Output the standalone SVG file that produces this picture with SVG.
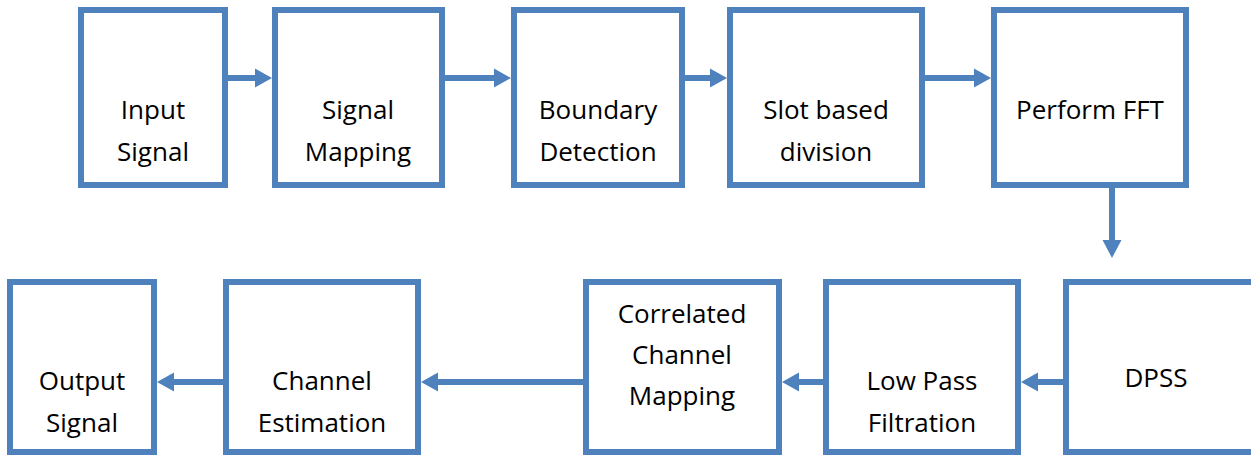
<svg xmlns="http://www.w3.org/2000/svg" width="1251" height="456" viewBox="0 0 1251 456">
<defs>
<style>
.box{fill:#fff;stroke:#4F81BD;stroke-width:6}
.lbl{font-family:"Open Sans","Liberation Sans",sans-serif;font-size:26px;fill:#000;text-anchor:middle}
.con{stroke:#4F81BD;stroke-width:6;fill:none}
.head{fill:#4F81BD}
</style>
</defs>
<rect width="1251" height="456" fill="#fff"/>
<g id="connectors">
<line class="con" x1="228" y1="78" x2="256" y2="78"/><polygon class="head" points="255,68.5 272,78 255,87.5"/>
<line class="con" x1="445" y1="78" x2="495" y2="78"/><polygon class="head" points="494,68.5 511,78 494,87.5"/>
<line class="con" x1="685" y1="78" x2="711" y2="78"/><polygon class="head" points="710,68.5 727,78 710,87.5"/>
<line class="con" x1="925" y1="78" x2="975" y2="78"/><polygon class="head" points="974,68.5 991,78 974,87.5"/>
<line class="con" x1="1112" y1="188" x2="1112" y2="242"/><polygon class="head" points="1102.5,240 1121.5,240 1112,258"/>
<line class="con" x1="1063" y1="382" x2="1037" y2="382"/><polygon class="head" points="1038,372.5 1021,382 1038,391.5"/>
<line class="con" x1="823" y1="382" x2="798" y2="382"/><polygon class="head" points="799,372.5 782,382 799,391.5"/>
<line class="con" x1="583" y1="382" x2="437" y2="382"/><polygon class="head" points="438,372.5 421,382 438,391.5"/>
<line class="con" x1="223" y1="382" x2="173" y2="382"/><polygon class="head" points="174,372.5 157,382 174,391.5"/>
</g>
<g id="n1"><rect class="box" x="81" y="10" width="144" height="175"/><text class="lbl" x="153" y="119">Input</text><text class="lbl" x="153" y="161">Signal</text></g>
<g id="n2"><rect class="box" x="275" y="10" width="167" height="175"/><text class="lbl" x="358" y="119">Signal</text><text class="lbl" x="358" y="161">Mapping</text></g>
<g id="n3"><rect class="box" x="514" y="10" width="168" height="175"/><text class="lbl" x="598" y="119">Boundary</text><text class="lbl" x="598" y="161">Detection</text></g>
<g id="n4"><rect class="box" x="730" y="10" width="192" height="175"/><text class="lbl" x="826" y="119">Slot based</text><text class="lbl" x="826" y="161">division</text></g>
<g id="n5"><rect class="box" x="994" y="10" width="192" height="175"/><text class="lbl" x="1090" y="119">Perform FFT</text></g>
<g id="n6"><rect class="box" x="1066" y="282" width="200" height="170"/><text class="lbl" x="1156" y="387">DPSS</text></g>
<g id="n7"><rect class="box" x="826" y="282" width="192" height="170"/><text class="lbl" x="922" y="390">Low Pass</text><text class="lbl" x="922" y="432">Filtration</text></g>
<g id="n8"><rect class="box" x="586" y="282" width="193" height="170"/><text class="lbl" x="682" y="323">Correlated</text><text class="lbl" x="682" y="364">Channel</text><text class="lbl" x="682" y="405">Mapping</text></g>
<g id="n9"><rect class="box" x="226" y="282" width="192" height="170"/><text class="lbl" x="322" y="390">Channel</text><text class="lbl" x="322" y="432">Estimation</text></g>
<g id="n10"><rect class="box" x="10" y="282" width="144" height="170"/><text class="lbl" x="82" y="390">Output</text><text class="lbl" x="82" y="432">Signal</text></g>
</svg>
